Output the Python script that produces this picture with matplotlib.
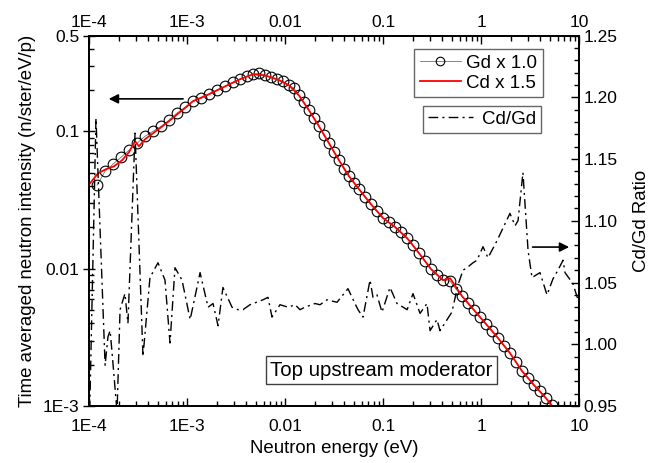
import matplotlib
matplotlib.use("Agg")
import matplotlib.pyplot as plt
from matplotlib.ticker import MultipleLocator, LogLocator, NullFormatter

plt.rcParams['font.family'] = ['Liberation Sans', 'DejaVu Sans']

# Gd measurement (circles)
gd_energy = [1.20e-4, 1.45e-4, 1.74e-4, 2.11e-4, 2.54e-4, 3.07e-4, 3.70e-4, 4.47e-4, 5.39e-4, 6.51e-4, 7.85e-4, 9.47e-4,
             1.14e-3, 1.38e-3, 1.67e-3, 2.01e-3, 2.43e-3, 2.93e-3, 3.45e-3, 4.07e-3, 4.68e-3, 5.39e-3, 6.21e-3, 7.15e-3,
             8.23e-3, 9.47e-3,
             1.09e-2, 1.23e-2, 1.38e-2, 1.55e-2, 1.74e-2, 1.96e-2, 2.21e-2, 2.48e-2, 2.79e-2, 3.14e-2, 3.53e-2, 3.97e-2,
             4.47e-2, 5.02e-2, 5.65e-2, 6.50e-2, 7.49e-2, 8.62e-2, 9.93e-2,
             0.114, 0.132, 0.152, 0.175, 0.201, 0.231, 0.266, 0.307, 0.353, 0.407, 0.480, 0.552, 0.635, 0.732, 0.842, 0.970,
             1.12, 1.29, 1.48, 1.71, 1.96, 2.26, 2.60, 3.00, 3.45, 3.97, 4.57, 5.26]
gd_intensity = [0.0406, 0.0513, 0.0577, 0.0649, 0.0730, 0.0821, 0.0923, 0.1003, 0.109, 0.121, 0.136, 0.150,
                0.166, 0.174, 0.187, 0.200, 0.213, 0.228, 0.240, 0.252, 0.261, 0.265, 0.256, 0.248, 0.240, 0.232,
                0.217, 0.206, 0.183, 0.163, 0.143, 0.125, 0.109, 0.0938, 0.0821, 0.0706, 0.0617, 0.0531, 0.0472,
                0.0420, 0.0380, 0.0332, 0.0295, 0.0262, 0.0234,
                0.0218, 0.0201, 0.0185, 0.0167, 0.0149, 0.0130, 0.01136, 0.00993, 0.00898, 0.00826, 0.00812, 0.00710,
                0.00632, 0.00562, 0.00500, 0.00444,
                0.00395, 0.00351, 0.00313, 0.00273, 0.00243, 0.00209, 0.00180, 0.00160, 0.00142, 0.00129, 0.00114, 0.00102]

# Cd measurement x 1.5 (red line)
cd_energy = [1.00e-4, 1.23e-4, 1.48e-4, 1.79e-4, 2.16e-4, 2.54e-4, 2.93e-4, 3.21e-4, 3.70e-4, 4.47e-4, 5.39e-4, 6.51e-4,
             7.85e-4, 9.47e-4,
             1.14e-3, 1.67e-3, 2.43e-3, 3.45e-3, 4.68e-3, 6.21e-3, 8.23e-3, 1.09e-2, 1.38e-2, 1.74e-2, 2.21e-2, 2.79e-2,
             3.53e-2, 4.47e-2, 5.65e-2, 7.49e-2, 9.93e-2,
             0.132, 0.175, 0.231, 0.307, 0.407, 0.480, 0.635, 0.842, 1.12, 1.48, 1.96, 2.60, 3.45, 4.57, 5.39]
cd_intensity = [0.0413, 0.0496, 0.0531, 0.0558, 0.0617, 0.0706, 0.0849, 0.0780, 0.0877, 0.0970, 0.107, 0.119,
                0.133, 0.148,
                0.166, 0.187, 0.213, 0.240, 0.261, 0.256, 0.240, 0.217, 0.183, 0.143, 0.109, 0.0821, 0.0617, 0.0472,
                0.0380, 0.0295, 0.0234,
                0.0201, 0.0167, 0.0130, 0.00993, 0.00826, 0.00854, 0.00632, 0.00500, 0.00395, 0.00313, 0.00243,
                0.00180, 0.00142, 0.00114, 0.00098]

# Cd/Gd ratio (right axis)
ratio_energy = [1.00e-4, 1.17e-4, 1.45e-4, 1.55e-4, 1.63e-4, 1.70e-4, 1.92e-4, 2.06e-4, 2.31e-4, 2.48e-4, 2.93e-4,
                3.53e-4, 4.16e-4, 5.02e-4, 5.92e-4, 6.66e-4, 7.49e-4, 8.83e-4,
                1.07e-3, 1.35e-3, 1.63e-3, 1.83e-3, 2.06e-3, 2.31e-3, 2.86e-3, 3.29e-3, 3.70e-3, 4.36e-3, 5.92e-3,
                6.66e-3, 7.32e-3, 8.83e-3,
                1.07e-2, 1.26e-2, 1.41e-2, 1.59e-2, 2.01e-2, 2.26e-2, 2.66e-2, 3.37e-2, 4.36e-2, 5.14e-2, 5.52e-2,
                6.21e-2, 7.32e-2, 7.85e-2, 8.62e-2, 9.70e-2,
                0.117, 0.138, 0.175, 0.201, 0.237, 0.279, 0.300, 0.353, 0.379, 0.501, 0.578, 0.651, 0.715, 0.823, 0.904,
                1.04, 1.17, 1.45, 1.96, 2.21, 2.37, 2.66, 3.00, 3.29, 3.97, 4.68, 5.39, 6.06, 6.82, 7.15, 8.62, 9.70]
ratio = [0.930, 1.183, 0.983, 1.006, 1.011, 0.995, 0.945, 1.028, 1.041, 1.017, 1.171, 0.990, 1.054, 1.066, 1.052,
         1.001, 1.062, 1.052,
         1.020, 1.058, 1.030, 1.033, 1.015, 1.046, 1.030, 1.028, 1.028, 1.032, 1.036, 1.038, 1.022, 1.032,
         1.030, 1.032, 1.028, 1.030, 1.033, 1.032, 1.036, 1.034, 1.045, 1.033, 1.028, 1.022, 1.052, 1.038, 1.040, 1.026,
         1.046, 1.033, 1.028, 1.041, 1.025, 1.033, 1.011, 1.020, 1.011, 1.026, 1.048, 1.060, 1.062, 1.066, 1.068,
         1.079, 1.070, 1.084, 1.106, 1.096, 1.100, 1.139, 1.076, 1.054, 1.058, 1.040, 1.053, 1.060, 1.068, 1.058,
         1.049, 1.036]

x_ticks = [1e-4, 1e-3, 1e-2, 1e-1, 1, 10]
x_ticklabels = ['1E-4', '1E-3', '0.01', '0.1', '1', '10']
y_ticks = [1e-3, 1e-2, 1e-1, 0.5]
y_ticklabels = ['1E-3', '0.01', '0.1', '0.5']
r_ticks = [0.95, 1.00, 1.05, 1.10, 1.15, 1.20, 1.25]
r_ticklabels = ['0.95', '1.00', '1.05', '1.10', '1.15', '1.20', '1.25']

fig = plt.figure(figsize=(6.58, 4.63), dpi=100)
ax = fig.add_axes([0.1357, 0.1231, 0.7447, 0.8002])
ax2 = ax.twinx()

ax.set_xscale('log')
ax.set_yscale('log')
ax.set_xlim(1e-4, 10)
ax.set_ylim(1e-3, 0.5)
ax2.set_ylim(0.95, 1.25)

gd_line, = ax.plot(gd_energy, gd_intensity, '-', color='0.45', lw=0.6, marker='o', ms=7.7,
                   mfc='none', mec='black', mew=0.8, zorder=2)
cd_line, = ax.plot(cd_energy, cd_intensity, color='red', lw=1.3, zorder=3)
ratio_line, = ax2.plot(ratio_energy, ratio, color='black', lw=1.0, dashes=(7, 3, 1.5, 3))

tick_fs = 12.5
# bottom / left
ax.set_xticks(x_ticks, x_ticklabels)
ax.set_yticks(y_ticks, y_ticklabels)
for axis in (ax.xaxis, ax.yaxis):
    axis.set_minor_locator(LogLocator(base=10, subs=range(2, 10), numticks=20))
    axis.set_minor_formatter(NullFormatter())
ax.tick_params(which='both', direction='in', top=False, labelsize=tick_fs, width=1)
ax.tick_params(axis='x', which='both', pad=9)
ax.tick_params(axis='y', which='both', pad=3)
ax.tick_params(which='major', length=6)
ax.tick_params(which='minor', length=3.5)
ax.tick_params(axis='y', which='major', direction='inout', length=8)

# top axis labels
top = ax.secondary_xaxis('top')
top.set_xticks(x_ticks, x_ticklabels)
top.xaxis.set_minor_locator(LogLocator(base=10, subs=range(2, 10), numticks=20))
top.xaxis.set_minor_formatter(NullFormatter())
top.tick_params(which='both', direction='in', labelsize=tick_fs, width=1, pad=4)
top.tick_params(which='major', length=6)
top.tick_params(which='minor', length=3.5)

# right axis
ax2.set_yticks(r_ticks, r_ticklabels)
ax2.yaxis.set_minor_locator(MultipleLocator(0.01))
ax2.tick_params(which='both', direction='in', labelsize=tick_fs, width=1, pad=3)
ax2.tick_params(which='major', length=6)
ax2.tick_params(which='minor', length=3.5)

for a in (ax, ax2, top):
    for s in a.spines.values():
        s.set_linewidth(1.3)

ax.set_xlabel('Neutron energy (eV)', fontsize=13.4, labelpad=5)
ax.set_ylabel('Time averaged neutron intensity (n/ster/eV/p)', fontsize=13.4, labelpad=5)
ax2.set_ylabel('Cd/Gd Ratio', fontsize=13.4, labelpad=11)

# arrows pointing to the matching axis
ax2.annotate('', xy=(0.034, 0.829), xytext=(0.197, 0.829), xycoords='axes fraction',
             arrowprops=dict(arrowstyle='-|>', color='black', lw=1.2, mutation_scale=14))
ax2.annotate('', xy=(0.985, 0.429), xytext=(0.899, 0.429), xycoords='axes fraction',
             arrowprops=dict(arrowstyle='-|>', color='black', lw=1.2, mutation_scale=14))

# legends
leg1 = ax2.legend([gd_line, cd_line], ['Gd x 1.0', 'Cd x 1.5'], loc='upper right',
                  bbox_to_anchor=(0.926, 0.9636), fontsize=13.5, frameon=True, fancybox=False,
                  borderpad=0.3, labelspacing=0.15, handlelength=2.2, handletextpad=0.3, borderaxespad=0,
                  markerscale=0.8)
leg1.get_frame().set_edgecolor('0.25')
leg1.get_frame().set_linewidth(1.0)
ax2.add_artist(leg1)
leg2 = ax2.legend([ratio_line], ['Cd/Gd'], loc='upper right', bbox_to_anchor=(0.9218, 0.8097),
                  fontsize=13.5, frameon=True, fancybox=False, borderpad=0.25, handlelength=2.4,
                  handletextpad=0.5, borderaxespad=0)
leg2.get_frame().set_edgecolor('0.25')
leg2.get_frame().set_linewidth(1.0)

ax2.text(0.5965, 0.097, 'Top upstream moderator', transform=ax2.transAxes, fontsize=14.7,
         ha='center', va='center',
         bbox=dict(boxstyle='square,pad=0.2', facecolor='white', edgecolor='0.25', linewidth=1.0))

fig.savefig('out.png', dpi=100)
